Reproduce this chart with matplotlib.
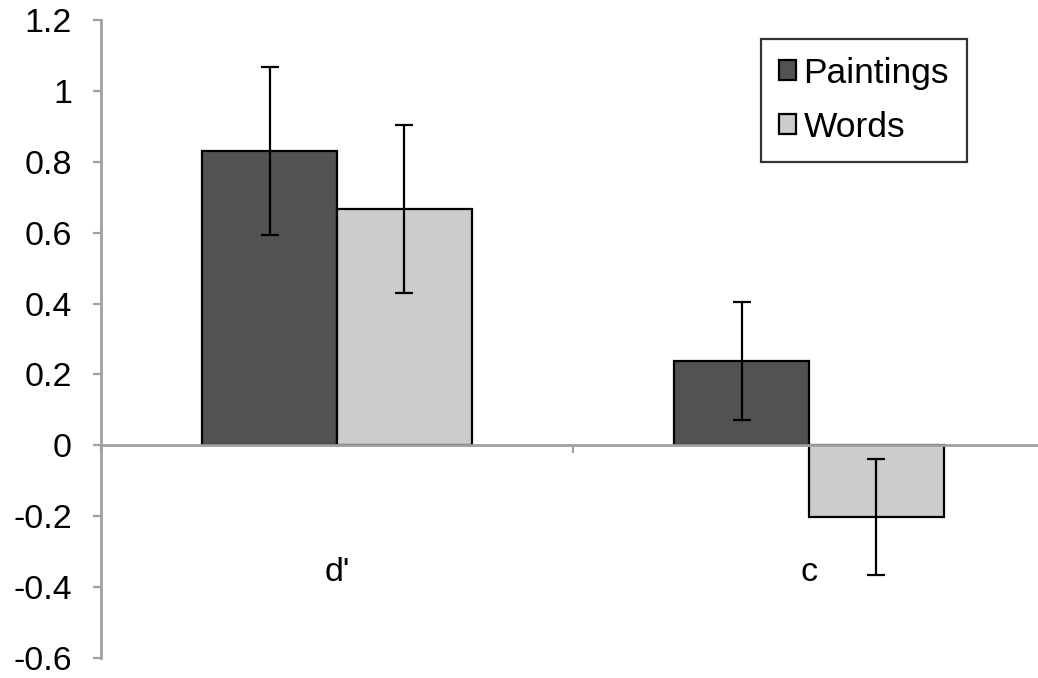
import numpy as np
import matplotlib
matplotlib.use("Agg")
import matplotlib.pyplot as plt

plt.rcParams['font.family'] = ['Liberation Sans', 'DejaVu Sans']

# signal detection measures per stimulus type
measures = ["d'", "c"]
series = ["Paintings", "Words"]
paintings = [0.83, 0.237]
words = [0.668, -0.203]
paintings_err = [0.237, 0.166]
words_err = [0.237, 0.164]

dark = "#525252"
light = "#cccccc"
axis_grey = "#a0a0a0"

fig = plt.figure(figsize=(10.38, 6.78), dpi=100)
ax = fig.add_axes([101 / 1038, 20 / 678, 944 / 1038, 638 / 678])

x = np.arange(len(measures))
w = 0.286
err_kw = dict(ecolor="black", elinewidth=1.6, capsize=6.5, capthick=1.6)
ax.bar(x - w / 2, paintings, w, yerr=paintings_err, color=dark,
       edgecolor="black", linewidth=1.6, label=series[0], error_kw=err_kw)
ax.bar(x + w / 2, words, w, yerr=words_err, color=light,
       edgecolor="black", linewidth=1.6, label=series[1], error_kw=err_kw)

ax.set_xlim(-0.5, len(measures) - 0.5)
ax.set_ylim(-0.6, 1.2)
ax.set_yticks(np.arange(-0.6, 1.21, 0.2))
ax.set_yticklabels(["-0.6", "-0.4", "-0.2", "0", "0.2", "0.4", "0.6", "0.8", "1", "1.2"])

for s in ["top", "right"]:
    ax.spines[s].set_visible(False)
ax.spines["bottom"].set_position(("data", 0))
for s in ["left", "bottom"]:
    ax.spines[s].set_color(axis_grey)
    ax.spines[s].set_linewidth(2)

ax.tick_params(axis="y", direction="out", length=6, width=1.6,
               color=axis_grey, labelsize=24.5, pad=15)
ax.set_xticks(np.arange(-0.5, len(measures)), minor=False)
ax.set_xticklabels([])
ax.tick_params(axis="x", direction="out", length=6, width=1.6, color=axis_grey)

for xi, m in zip(x, measures):
    ax.text(xi, -0.36, m, ha="center", va="center", fontsize=24.5)

leg = ax.legend(loc="upper left", bbox_to_anchor=(761 / 1038, 1 - 39 / 678),
                bbox_transform=fig.transFigure, fontsize=25.5, frameon=True,
                fancybox=False, handlelength=0.5, handleheight=0.5,
                handletextpad=0.2, labelspacing=0.6, borderpad=0.5,
                borderaxespad=0)
leg.get_frame().set_edgecolor("black")
leg.get_frame().set_linewidth(1.6)

fig.savefig("out.png", dpi=100)
